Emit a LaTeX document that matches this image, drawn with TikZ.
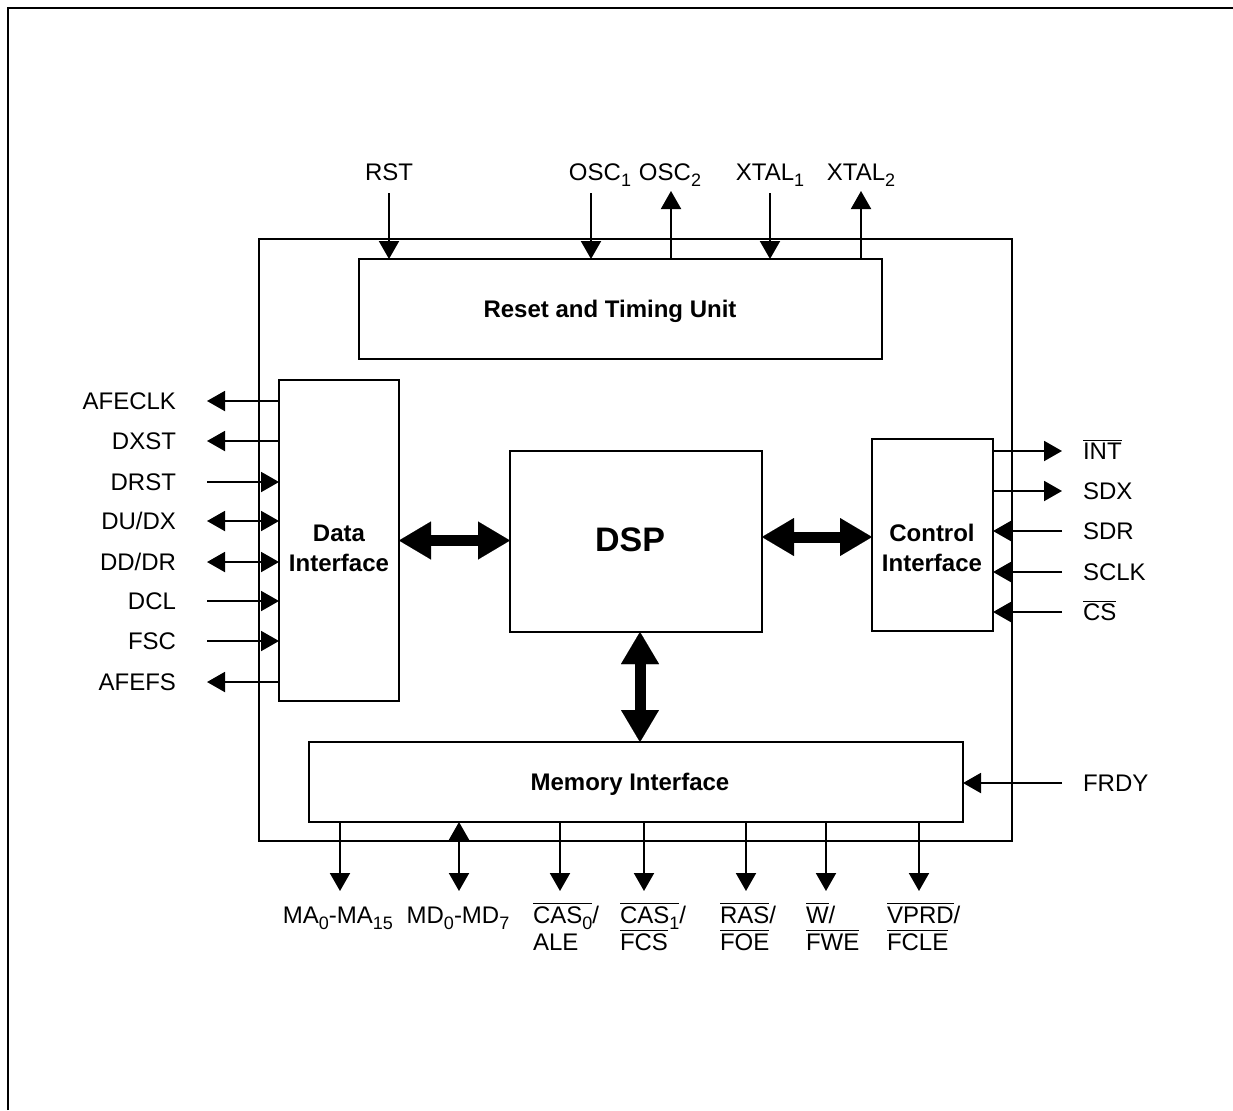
\documentclass[tikz,border=0pt]{standalone}
\usepackage{fontspec}
\setmainfont{Liberation Sans}
\usetikzlibrary{arrows.meta}
\newcommand{\ovl}[1]{$\overline{\mbox{#1}}$}
\newcommand{\sbs}[1]{\raisebox{-3pt}{\fontsize{9}{9}\selectfont #1}}
\begin{document}
\begin{tikzpicture}[x=0.5pt,y=-0.5pt,line width=1pt,
  >={Triangle[length=9pt,width=10pt]},
  blk/.style={draw,line width=1pt,inner sep=0pt,outer sep=0pt,rectangle},
  btext/.style={font=\bfseries\fontsize{12}{15}\selectfont,align=center,inner sep=0pt},
  lab/.style={font=\fontsize{12}{14}\selectfont,inner sep=0pt},
  big/.style={line width=5.5pt,{Triangle[length=16pt,width=19pt,line width=0.01pt]}-{Triangle[length=16pt,width=19pt,line width=0.01pt]}},
]
\useasboundingbox (0,0) rectangle (1233,1110);
% outer frame
\draw (8,1110) -- (8,8) -- (1233,8);

% blocks
\node[blk,minimum width=376.5pt,minimum height=301pt] (chip) at (635.5,540) {};
\node[blk,minimum width=261.5pt,minimum height=50pt] (reset) at (620.5,309) {};
\node[btext] (resett) at (610,311) {Reset and Timing Unit};
\node[blk,minimum width=60pt,minimum height=160.5pt] (data) at (339,540.5) {};
\node[btext] (datat) at (339,548) {Data\\Interface};
\node[blk,minimum width=126pt,minimum height=90.5pt] (dsp) at (636,541.5) {};
\node[btext,font=\bfseries\fontsize{17}{20}\selectfont] (dspt) at (630,540) {DSP};
\node[blk,minimum width=60.5pt,minimum height=96pt] (ctrl) at (932.5,535) {};
\node[btext] (ctrlt) at (932,548) {Control\\Interface};
\node[blk,minimum width=327pt,minimum height=40pt] (mem) at (636,782) {};
\node[btext] (memt) at (630,784) {Memory Interface};

% thick buses
\draw[big] (data.east) -- (dsp.west |- data.east);
\draw[big] (dsp.east |- 0,537) -- (ctrl.west |- 0,537);
\draw[big] (dsp.south -| 640,0) -- (mem.north -| 640,0);

% top signals
\coordinate (rstE) at (389,193);
\node[lab,anchor=base] (rstL) at (389,180) {RST};
\draw[->] (rstE) -- (reset.north -| rstE);
\coordinate (osc1E) at (591,193);
\node[lab,anchor=base] (osc1L) at (600,180) {OSC\sbs{1}};
\draw[->] (osc1E) -- (reset.north -| osc1E);
\coordinate (osc2E) at (671,191);
\node[lab,anchor=base] (osc2L) at (670,180) {OSC\sbs{2}};
\draw[->] (reset.north -| osc2E) -- (osc2E);
\coordinate (xtal1E) at (770,193);
\node[lab,anchor=base] (xtal1L) at (770,180) {XTAL\sbs{1}};
\draw[->] (xtal1E) -- (reset.north -| xtal1E);
\coordinate (xtal2E) at (861,191);
\node[lab,anchor=base] (xtal2L) at (861,180) {XTAL\sbs{2}};
\draw[->] (reset.north -| xtal2E) -- (xtal2E);

% left signals (data interface)
\coordinate (afeclkE) at (207,401);
\node[lab,anchor=base east] (afeclkL) at (177,409.5) {AFECLK};
\draw[->] (data.west |- afeclkE) -- (afeclkE);
\coordinate (dxstE) at (207,441);
\node[lab,anchor=base east] (dxstL) at (177,449.5) {DXST};
\draw[->] (data.west |- dxstE) -- (dxstE);
\coordinate (drstE) at (207,482);
\node[lab,anchor=base east] (drstL) at (177,490.5) {DRST};
\draw[->] (drstE) -- (data.west |- drstE);
\coordinate (dudxE) at (207,521);
\node[lab,anchor=base east] (dudxL) at (177,529.5) {DU/DX};
\draw[<->] (dudxE) -- (data.west |- dudxE);
\coordinate (dddrE) at (207,562);
\node[lab,anchor=base east] (dddrL) at (177,570.5) {DD/DR};
\draw[<->] (dddrE) -- (data.west |- dddrE);
\coordinate (dclE) at (207,601);
\node[lab,anchor=base east] (dclL) at (177,609.5) {DCL};
\draw[->] (dclE) -- (data.west |- dclE);
\coordinate (fscE) at (207,641);
\node[lab,anchor=base east] (fscL) at (177,649.5) {FSC};
\draw[->] (fscE) -- (data.west |- fscE);
\coordinate (afefsE) at (207,682);
\node[lab,anchor=base east] (afefsL) at (177,690.5) {AFEFS};
\draw[->] (data.west |- afefsE) -- (afefsE);

% right signals (control interface)
\coordinate (intE) at (1062,451);
\node[lab,anchor=base west] (intL) at (1082,459.5) {\ovl{INT}};
\draw[->] (ctrl.east |- intE) -- (intE);
\coordinate (sdxE) at (1062,491);
\node[lab,anchor=base west] (sdxL) at (1082,499.5) {SDX};
\draw[->] (ctrl.east |- sdxE) -- (sdxE);
\coordinate (sdrE) at (1062,531);
\node[lab,anchor=base west] (sdrL) at (1082,539.5) {SDR};
\draw[->] (sdrE) -- (ctrl.east |- sdrE);
\coordinate (sclkE) at (1062,572);
\node[lab,anchor=base west] (sclkL) at (1082,580.5) {SCLK};
\draw[->] (sclkE) -- (ctrl.east |- sclkE);
\coordinate (csE) at (1062,612);
\node[lab,anchor=base west] (csL) at (1082,620.5) {\ovl{CS}};
\draw[->] (csE) -- (ctrl.east |- csE);
\coordinate (frdyE) at (1062,783);
\node[lab,anchor=base west] (frdyL) at (1082,791.5) {FRDY};
\draw[->] (frdyE) -- (mem.east |- frdyE);

% bottom signals (memory interface)
\coordinate (maE) at (340,891);
\draw[->] (mem.south -| maE) -- (maE);
\node[lab,anchor=base] (maL) at (338,923) {MA\sbs{0}-MA\sbs{15}};
\coordinate (mdE) at (459,891);
\draw[<->] (mem.south -| mdE) -- (mdE);
\node[lab,anchor=base] (mdL) at (458,923) {MD\sbs{0}-MD\sbs{7}};
\coordinate (cas0E) at (560,891);
\draw[->] (mem.south -| cas0E) -- (cas0E);
\node[lab,anchor=base west] (cas0L) at (532,923) {\ovl{CAS\sbs{0}}/};
\node[lab,anchor=base west] (cas0M) at (532,950) {ALE};
\coordinate (cas1E) at (644,891);
\draw[->] (mem.south -| cas1E) -- (cas1E);
\node[lab,anchor=base west] (cas1L) at (619,923) {\ovl{CAS\sbs{1}}/};
\node[lab,anchor=base west] (cas1M) at (619,950) {\ovl{FCS}};
\coordinate (rasE) at (746,891);
\draw[->] (mem.south -| rasE) -- (rasE);
\node[lab,anchor=base west] (rasL) at (719,923) {\ovl{RAS}/};
\node[lab,anchor=base west] (rasM) at (719,950) {\ovl{FOE}};
\coordinate (wE) at (826,891);
\draw[->] (mem.south -| wE) -- (wE);
\node[lab,anchor=base west] (wL) at (805,923) {\ovl{W}/};
\node[lab,anchor=base west] (wM) at (805,950) {\ovl{FWE}};
\coordinate (vprdE) at (919,891);
\draw[->] (mem.south -| vprdE) -- (vprdE);
\node[lab,anchor=base west] (vprdL) at (886,923) {\ovl{VPRD}/};
\node[lab,anchor=base west] (vprdM) at (886,950) {\ovl{FCLE}};
\end{tikzpicture}
\end{document}
